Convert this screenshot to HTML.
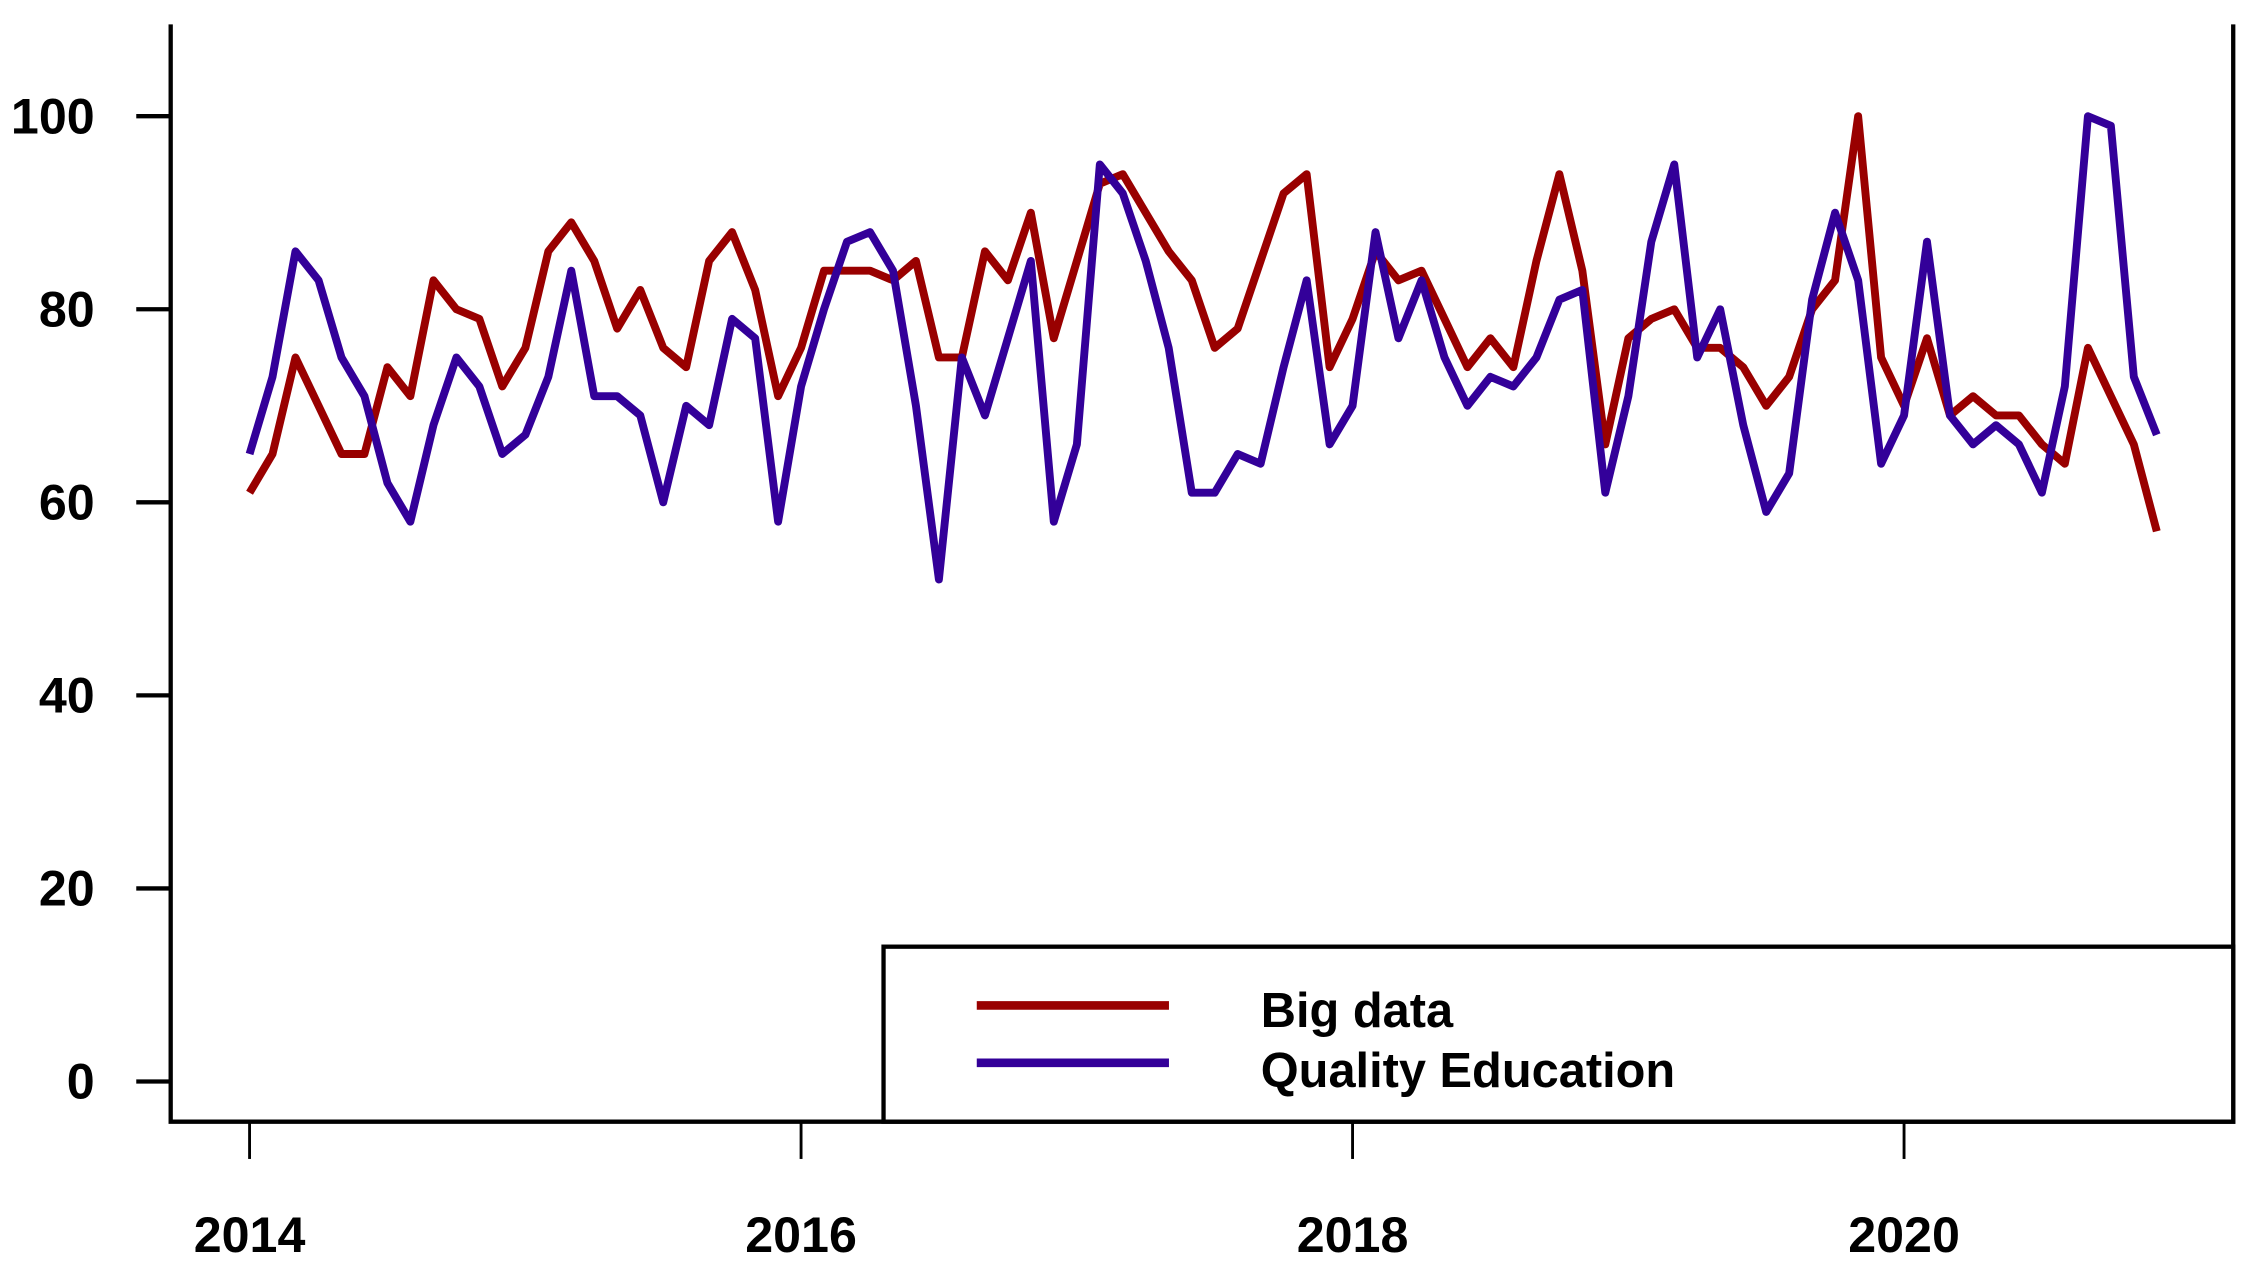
<!DOCTYPE html>
<html><head><meta charset="utf-8"><style>
html,body{margin:0;padding:0;background:#fff;}
svg{display:block;}
text{font-family:"Liberation Sans",sans-serif;font-weight:bold;fill:#000;}
</style></head><body>
<svg id="chart" width="2249" height="1268" viewBox="0 0 1568 884" xmlns="http://www.w3.org/2000/svg">
<g id="axes"></g>
<g id="series"></g>
<g id="legend">
<rect x="616" y="660" width="941" height="122" fill="#fff" stroke="#000" stroke-width="3"/>
<line x1="681" y1="701" x2="815" y2="701" stroke="#990000" stroke-width="6"/>
<line x1="681" y1="741" x2="815" y2="741" stroke="#330099" stroke-width="6"/>
<text x="879" y="716" font-size="34">Big data</text>
<text x="879" y="758" font-size="34">Quality Education</text>
</g>
</svg>
<script>
const startYear = 2014;
const yTicks = [0, 20, 40, 60, 80, 100];
const xTickYears = [2014, 2016, 2018, 2020];
const bigData = [61,65,75,70,65,65,74,71,83,80,79,72,76,86,89,85,78,82,76,74,85,88,82,71,76,84,84,84,83,85,75,75,86,83,90,77,85,93,94,90,86,83,76,78,85,92,94,74,79,86,83,84,79,74,77,74,85,94,84,66,77,79,80,76,76,74,70,73,80,83,100,75,70,77,69,71,69,69,66,64,76,71,66,57];
const qualityEducation = [65,73,86,83,75,71,62,58,68,75,72,65,67,73,84,71,71,69,60,70,68,79,77,58,72,80,87,88,84,70,52,75,69,77,85,58,66,95,92,85,76,61,61,65,64,74,83,66,70,88,77,83,75,70,73,72,75,81,82,61,71,87,95,75,80,68,59,63,81,90,83,64,69,87,69,66,68,66,61,72,100,99,73,67];

const NS = "http://www.w3.org/2000/svg";
function xScale(t){ return 174 + (t - startYear) * 192.25; }
function yScale(v){ return 754 - v * 6.73; }
function mk(tag, attrs, parent){
  const e = document.createElementNS(NS, tag);
  for (const k in attrs) e.setAttribute(k, attrs[k]);
  parent.appendChild(e); return e;
}
const axes = document.getElementById('axes');
const series = document.getElementById('series');

const frame = mk('polyline', {points:"119,17 119,782 1557,782 1557,17", fill:"none", stroke:"#000", "stroke-width":3}, axes);



yTicks.forEach(v => {
  const y = yScale(v);
  const t = mk('line', {x1:95, x2:119, y1:y, y2:y, stroke:"#000", "stroke-width":3}, axes);
  
  
  const l = mk('text', {x:66, y:y + 12, "text-anchor":"end", "font-size":35}, axes);
  
  
  l.textContent = v;
});
xTickYears.forEach(yr => {
  const x = xScale(yr);
  const t = mk('line', {x1:x, x2:x, y1:782, y2:808, stroke:"#000", "stroke-width":2}, axes);
  
  
  const l = mk('text', {x:x, y:873, "text-anchor":"middle", "font-size":35}, axes);
  
  
  l.textContent = yr;
});

function drawLine(vals, color, name){
  const pts = vals.map((v, i) => xScale(startYear + i / 12).toFixed(1) + ',' + yScale(v).toFixed(1)).join(' ');
  const p = mk('polyline', {points:pts, fill:"none", stroke:color, "stroke-width":5.5, "stroke-linejoin":"round"}, series);
  
  
}
drawLine(bigData, '#990000', 'big-data-line');
drawLine(qualityEducation, '#330099', 'quality-education-line');
</script>
</body></html>
